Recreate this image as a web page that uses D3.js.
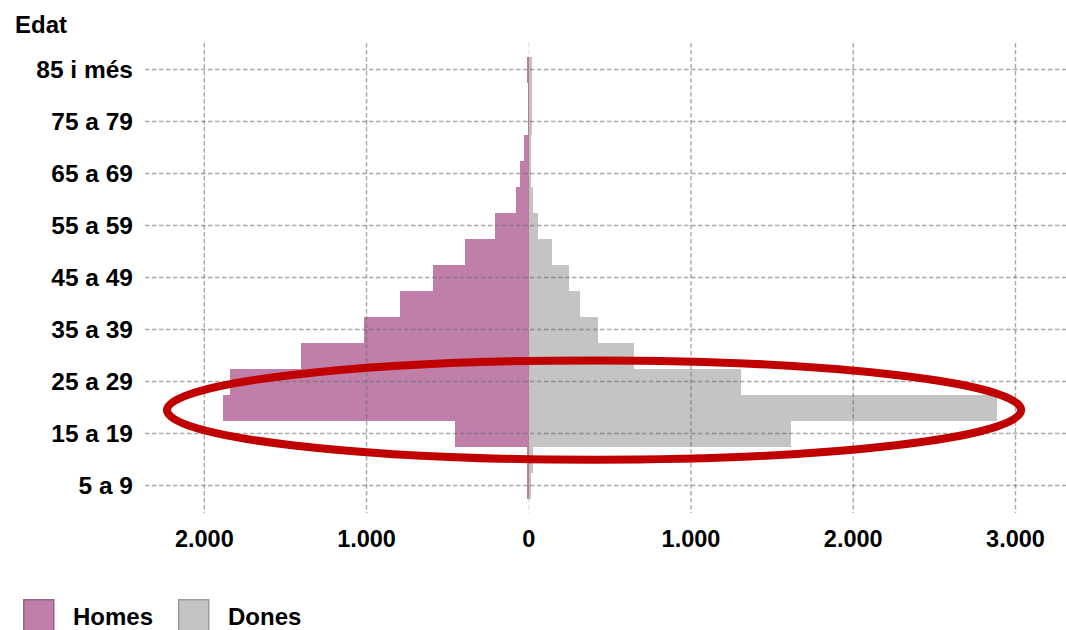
<!DOCTYPE html>
<html><head><meta charset="utf-8">
<script src="https://cdn.jsdelivr.net/npm/d3@7"></script>
<style>
body{margin:0;background:#fff}
svg{display:block}
text{font-family:"Liberation Sans",Arial,sans-serif;font-weight:bold;fill:#000}
</style>
</head><body>
<svg id="c" width="1066" height="630"></svg>
<script>
// ---- data ----
const ageGroups = ["0 a 4","5 a 9","10 a 14","15 a 19","20 a 24","25 a 29","30 a 34","35 a 39","40 a 44","45 a 49","50 a 54","55 a 59","60 a 64","65 a 69","70 a 74","75 a 79","80 a 84","85 i més"];
const homes = [0, 8, 14, 457, 1886, 1840, 1407, 1018, 796, 593, 396, 209, 77, 55, 28, 6, 4, 10];
const dones = [0, 15, 28, 1615, 2885, 1310, 649, 425, 317, 246, 146, 57, 24, 13, 12, 18, 18, 20];
const xTicks = [-2000, -1000, 0, 1000, 2000, 3000];
const yTickLabels = ["85 i més","75 a 79","65 a 69","55 a 59","45 a 49","35 a 39","25 a 29","15 a 19","5 a 9"];
const seriesNames = ["Homes", "Dones"];
const seriesColors = ["#bf7fa8", "#c4c4c4"];
const seriesBorders = ["#8f6683", "#9b9b9b"];
const axisTitle = "Edat";
const highlight = {from: -2230, to: 3035, group: "20 a 24"};

// ---- chart ----
const svg = d3.select("#c");
const x = d3.scaleLinear().domain([-2000, 3000]).range([204.3, 1015.5]);
const y = d3.scaleBand().domain(ageGroups.slice().reverse()).range([56.5, 524.5]).padding(0);

const rows = ageGroups.map((g, i) => ({g, h: homes[i], d: dones[i]}));

const bars = svg.append("g").attr("shape-rendering", "crispEdges");
bars.selectAll("rect.h").data(rows).join("rect").attr("class", "h")
  .attr("x", d => x(-d.h)).attr("width", d => x(0) - x(-d.h))
  .attr("y", d => y(d.g)).attr("height", y.bandwidth())
  .attr("fill", seriesColors[0]);
bars.selectAll("rect.d").data(rows).join("rect").attr("class", "d")
  .attr("x", x(0)).attr("width", d => x(d.d) - x(0))
  .attr("y", d => y(d.g)).attr("height", y.bandwidth())
  .attr("fill", seriesColors[1]);

// gridlines on top
const grid = svg.append("g").attr("stroke", "#6e6e6e").attr("stroke-opacity", 0.6)
  .attr("stroke-dasharray", "4.5,2.5").attr("fill", "none");
grid.selectAll("line.v").data(xTicks).join("line").attr("class", "v")
  .attr("x1", d => x(d)).attr("x2", d => x(d))
  .attr("y1", 43).attr("y2", 513)
  .attr("stroke-width", d => d === 0 ? 0.8 : 1.4)
  .attr("stroke-opacity", d => d === 0 ? 0.35 : 0.6);
grid.selectAll("line.hz").data(yTickLabels).join("line").attr("class", "hz")
  .attr("x1", 145).attr("x2", 1066)
  .attr("y1", d => y(d) + y.bandwidth() / 2).attr("y2", d => y(d) + y.bandwidth() / 2)
  .attr("stroke-width", 1.4);

// axis labels
const fmt = v => d3.format(",")(Math.abs(v)).replace(/,/g, ".");
svg.append("g").selectAll("text").data(xTicks).join("text")
  .attr("x", d => x(d)).attr("y", 547).attr("text-anchor", "middle")
  .attr("font-size", 23.5).text(fmt);
svg.append("g").selectAll("text").data(yTickLabels).join("text")
  .attr("x", 133).attr("y", d => y(d) + y.bandwidth() / 2).attr("dy", "0.36em")
  .attr("text-anchor", "end").attr("font-size", 24.5).text(d => d);
svg.append("text").attr("x", 15).attr("y", 33).attr("font-size", 24).text(axisTitle);

// highlight ellipse
const cx = (x(highlight.from) + x(highlight.to)) / 2;
svg.append("ellipse")
  .attr("cx", cx).attr("cy", y(highlight.group) + y.bandwidth() * 0.6)
  .attr("rx", (x(highlight.to) - x(highlight.from)) / 2)
  .attr("ry", y.bandwidth() * 1.91)
  .attr("fill", "none").attr("stroke", "#c00000").attr("stroke-width", 8);

// legend
const leg = svg.append("g");
const legX = [23, 178];
seriesNames.forEach((n, i) => {
  leg.append("rect").attr("x", legX[i] + 0.75).attr("y", 599.75).attr("width", 30).attr("height", 31)
    .attr("fill", seriesColors[i]).attr("stroke", seriesBorders[i]).attr("stroke-width", 1.5);
  leg.append("text").attr("x", legX[i] + 50).attr("y", 625).attr("font-size", 24).text(n);
});
</script>
</body></html>
